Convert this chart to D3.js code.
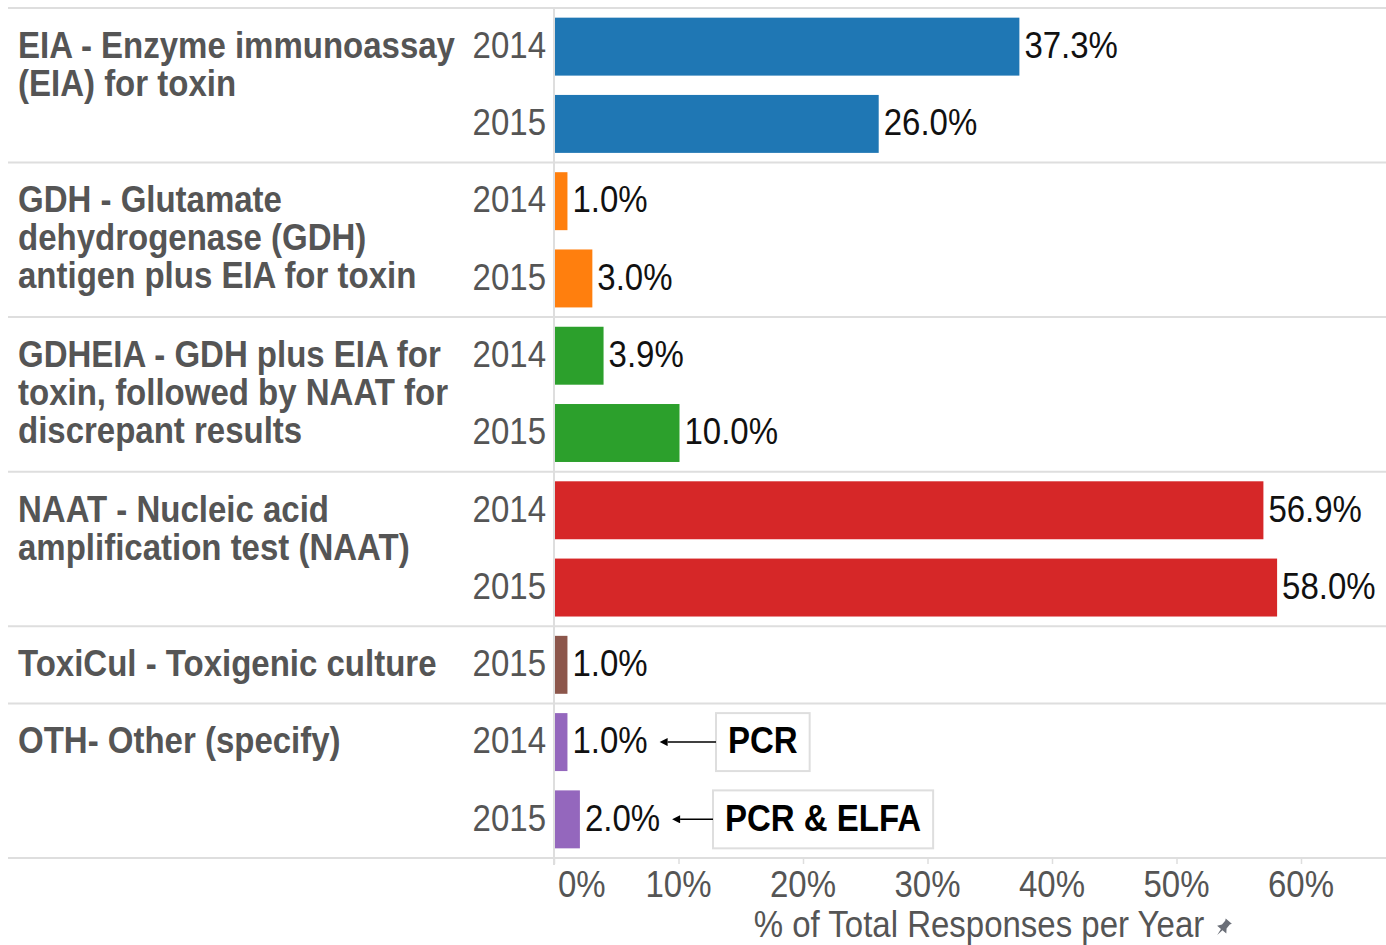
<!DOCTYPE html>
<html>
<head>
  <meta charset="utf-8">
  <title>C. difficile test methods</title>
  <script src="https://d3js.org/d3.v7.min.js"></script>
  <style>
    body { margin: 0; background: white; }
    text { font-family: "Liberation Sans", Arial, sans-serif; }
  </style>
</head>
<body>
<script>
  // Data
  var categories = ["EIA", "GDH", "GDHEIA", "NAAT", "ToxiCul", "OTH"];
  var categoryLines = [
    ["EIA - Enzyme immunoassay", "(EIA) for toxin"],
    ["GDH - Glutamate", "dehydrogenase (GDH)", "antigen plus EIA for toxin"],
    ["GDHEIA - GDH plus EIA for", "toxin, followed by NAAT for", "discrepant results"],
    ["NAAT - Nucleic acid", "amplification test (NAAT)"],
    ["ToxiCul - Toxigenic culture"],
    ["OTH- Other (specify)"]
  ];
  var years = ["2014", "2015"];
  var values2014 = [37.3, 1.0, 3.9, 56.9, null, 1.0];
  var values2015 = [26.0, 3.0, 10.0, 58.0, 1.0, 2.0];
  var colors = ["#1f77b4", "#ff7f0e", "#2ca02c", "#d62728", "#8c564b", "#9467bd"];
  var xTicks = [0, 10, 20, 30, 40, 50, 60];
  var notes = [{cat: "OTH", year: "2014", text: "PCR"}, {cat: "OTH", year: "2015", text: "PCR & ELFA"}];

  // Consts
  var W = 1386, H = 945;
  var topY = 8, bottomY = 858, leftX = 8, x0 = 554;
  var fs = 33, sy = 1.14;
  var grid = "#dedede";

  var rows = [];
  categories.forEach(function(c, i) {
    [values2014[i], values2015[i]].forEach(function(v, j) {
      if (v !== null) rows.push({cat: c, ci: i, year: years[j], value: v, key: c + "|" + years[j]});
    });
  });

  var svg = d3.select("body").append("svg").attr("width", W).attr("height", H);

  var x = d3.scaleLinear().domain([0, 60]).range([x0, 1301]);
  var y = d3.scaleBand().domain(rows.map(function(d) { return d.key; }))
            .range([topY, bottomY]).paddingInner(0.25).paddingOuter(0.125);

  function label(g, tx, ty, str) {
    return g.append("text")
            .attr("transform", "translate(" + tx + "," + ty + ") scale(1," + sy + ")")
            .attr("dy", "0.3em")
            .style("font-size", fs + "px")
            .text(str);
  }

  // Row separators
  var firstRow = categories.map(function(c) { return rows.find(function(r) { return r.cat == c; }); });
  var sepY = [topY];
  categories.forEach(function(c) {
    var last = rows.filter(function(r) { return r.cat == c; }).pop();
    sepY.push(y(last.key) + y.bandwidth() + y.step() * 0.125);
  });
  svg.selectAll(".sep").data(sepY).enter().append("line")
     .attr("x1", leftX).attr("x2", W)
     .attr("y1", function(d) { return d; }).attr("y2", function(d) { return d; })
     .attr("stroke", grid).attr("stroke-width", 2);

  // zero line
  svg.append("line").attr("x1", x0).attr("x2", x0).attr("y1", topY).attr("y2", bottomY + 7)
     .attr("stroke", grid).attr("stroke-width", 2);

  // Bars
  svg.selectAll(".bar").data(rows).enter().append("rect")
     .attr("x", x(0) + 1)
     .attr("y", function(d) { return y(d.key); })
     .attr("width", function(d) { return x(d.value) - x(0); })
     .attr("height", y.bandwidth())
     .attr("fill", function(d) { return colors[d.ci]; });

  var lab = svg.append("g");
  var valEnd = {};
  rows.forEach(function(d) {
    var cy = y(d.key) + y.bandwidth() / 2;
    var t = label(lab, x(d.value) + 6, cy, d.value.toFixed(1) + "%").attr("fill", "#111");
    valEnd[d.key] = x(d.value) + 6 + t.node().getComputedTextLength();
    label(lab, 546, cy, d.year).attr("fill", "#555").attr("text-anchor", "end");
  });

  // Category labels
  firstRow.forEach(function(r, i) {
    var cy = y(r.key) + y.bandwidth() / 2;
    categoryLines[i].forEach(function(line, k) {
      label(lab, 18, cy + k * 38, line).attr("fill", "#555").style("font-weight", "bold");
    });
  });

  // Annotations
  var boxX = {"2014": 716, "2015": 713};
  svg.append("defs").append("marker").attr("id", "arr")
     .attr("viewBox", "0 0 10 10").attr("refX", 0).attr("refY", 5)
     .attr("markerWidth", 11).attr("markerHeight", 8).attr("markerUnits", "userSpaceOnUse")
     .attr("orient", "auto")
     .append("path").attr("d", "M0,0L10,5L0,10z").attr("fill", "#000");
  notes.forEach(function(n) {
    var key = n.cat + "|" + n.year;
    var by = y(key), cy = by + y.bandwidth() / 2;
    var g = svg.append("g");
    var t = label(g, boxX[n.year] + 12, cy, n.text).attr("fill", "#000").style("font-weight", "bold");
    var tw = t.node().getComputedTextLength();
    g.insert("rect", "text").attr("x", boxX[n.year]).attr("y", by)
     .attr("width", tw + 24).attr("height", y.bandwidth())
     .attr("fill", "white").attr("stroke", grid).attr("stroke-width", 2);
    g.append("line").attr("x1", boxX[n.year]).attr("x2", valEnd[key] + 20)
     .attr("y1", cy).attr("y2", cy).attr("stroke", "#000").attr("stroke-width", 1.5)
     .attr("marker-end", "url(#arr)");
  });

  // Axis
  var ax = svg.append("g").attr("transform", "translate(0," + bottomY + ")")
              .call(d3.axisBottom(x).tickValues(xTicks).tickSize(6).tickFormat(function(d) { return d + "%"; }));
  ax.select(".domain").remove();
  ax.selectAll(".tick line").attr("stroke", grid).attr("stroke-width", 1.5);
  ax.selectAll(".tick text").remove();
  xTicks.forEach(function(t) {
    var tl = label(ax, t == 0 ? x(t) + 4 : x(t), 28, t + "%").attr("fill", "#555");
    tl.attr("text-anchor", t == 0 ? "start" : "middle");
  });
  label(svg, 979, 926, "% of Total Responses per Year").attr("fill", "#555").attr("text-anchor", "middle");
  // pin icon
  svg.append("path")
     .attr("transform", "translate(1223,928) rotate(40)")
     .attr("d", "M-4,-9 L4,-9 L3,-7 L3,-2 L6,2 L1,2 L0,9 L-1,2 L-6,2 L-3,-2 L-3,-7 Z")
     .attr("fill", "#6b6f78");
</script>
</body>
</html>
